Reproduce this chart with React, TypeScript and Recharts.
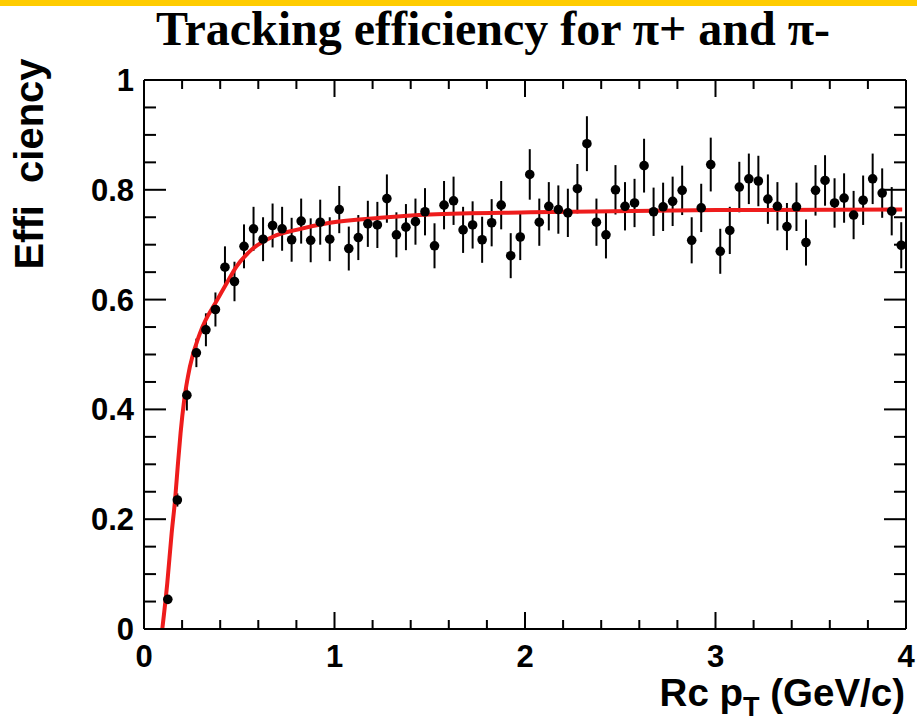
import React from 'react'
import { ComposedChart, Scatter, Line, XAxis, YAxis, ErrorBar } from 'recharts'

// bin centres in Rc pT (GeV/c)
const PT = [
  0.125, 0.175, 0.225, 0.275, 0.325, 0.375, 0.425, 0.475, 0.525, 0.575,
  0.625, 0.675, 0.725, 0.775, 0.825, 0.875, 0.925, 0.975, 1.025, 1.075,
  1.125, 1.175, 1.225, 1.275, 1.325, 1.375, 1.425, 1.475, 1.525, 1.575,
  1.625, 1.675, 1.725, 1.775, 1.825, 1.875, 1.925, 1.975, 2.025, 2.075,
  2.125, 2.175, 2.225, 2.275, 2.325, 2.375, 2.425, 2.475, 2.525, 2.575,
  2.625, 2.675, 2.725, 2.775, 2.825, 2.875, 2.925, 2.975, 3.025, 3.075,
  3.125, 3.175, 3.225, 3.275, 3.325, 3.375, 3.425, 3.475, 3.525, 3.575,
  3.625, 3.675, 3.725, 3.775, 3.825, 3.875, 3.925, 3.975,
]

const EFF = [
  0.054, 0.235, 0.426, 0.503, 0.545, 0.582, 0.659, 0.633, 0.697, 0.729,
  0.71, 0.735, 0.729, 0.709, 0.743, 0.708, 0.741, 0.71, 0.764, 0.693,
  0.713, 0.738, 0.736, 0.784, 0.718, 0.732, 0.742, 0.76, 0.698, 0.772,
  0.78, 0.727, 0.736, 0.709, 0.74, 0.772, 0.68, 0.714, 0.828, 0.741,
  0.77, 0.764, 0.758, 0.802, 0.884, 0.741, 0.718, 0.8, 0.77, 0.776,
  0.844, 0.76, 0.769, 0.779, 0.799, 0.708, 0.767, 0.846, 0.688, 0.726,
  0.805, 0.82, 0.816, 0.783, 0.77, 0.733, 0.769, 0.704, 0.799, 0.817,
  0.776, 0.785, 0.754, 0.781, 0.82, 0.794, 0.761, 0.699,
]

const ERR = [
  0.008, 0.012, 0.028, 0.026, 0.03, 0.031, 0.038, 0.036, 0.04, 0.04,
  0.04, 0.04, 0.04, 0.04, 0.041, 0.04, 0.041, 0.04, 0.043, 0.04,
  0.041, 0.042, 0.042, 0.044, 0.041, 0.042, 0.042, 0.043, 0.041, 0.044,
  0.044, 0.042, 0.043, 0.042, 0.043, 0.044, 0.041, 0.042, 0.046, 0.043,
  0.044, 0.044, 0.044, 0.045, 0.05, 0.043, 0.043, 0.045, 0.044, 0.044,
  0.049, 0.044, 0.044, 0.045, 0.045, 0.042, 0.044, 0.049, 0.041, 0.043,
  0.046, 0.046, 0.046, 0.045, 0.044, 0.043, 0.044, 0.042, 0.046, 0.046,
  0.045, 0.045, 0.044, 0.045, 0.046, 0.045, 0.044, 0.042,
]

// fit curve
const FIT_PT = [
  0.096, 0.122, 0.145, 0.163, 0.177, 0.192, 0.211, 0.241, 0.294, 0.385,
  0.434, 0.487, 0.565, 0.679, 0.8, 0.976, 1.24, 1.5, 2.03, 3.0, 3.98,
]
const FIT_EFF = [
  0, 0.083, 0.174, 0.235, 0.296, 0.357, 0.417, 0.478, 0.539, 0.6,
  0.63, 0.661, 0.691, 0.715, 0.727, 0.74, 0.749, 0.755, 0.759, 0.763, 0.764,
]

const X_MAJOR = [0, 1, 2, 3, 4]
const X_TICKS = [
  0.2, 0.4, 0.6, 0.8, 1, 1.2, 1.4, 1.6, 1.8, 2, 2.2, 2.4, 2.6, 2.8, 3,
  3.2, 3.4, 3.6, 3.8,
]
const Y_MAJOR = [0, 0.2, 0.4, 0.6, 0.8, 1]
const Y_TICKS = [
  0, 0.05, 0.1, 0.15, 0.2, 0.25, 0.3, 0.35, 0.4, 0.45, 0.5, 0.55, 0.6, 0.65,
  0.7, 0.75, 0.8, 0.85, 0.9, 0.95, 1,
]

const W = 917
const H = 723
const SANS = "'Liberation Sans', Arial, Helvetica, sans-serif"
const SERIF = "'Liberation Serif', 'Times New Roman', serif"

// x tick lengths in y-data units (frame is 549px tall for 0..1)
const TICK_MAJOR = 17 / 549
const TICK_MINOR = 9 / 549

const points = PT.map((x, i) => ({ x, y: EFF[i], err: ERR[i] }))
const fit = FIT_PT.map((x, i) => ({ x, y: FIT_EFF[i] }))

// x ticks as broken line segments: (x,edge) -> (x,edge±len), then a gap
const tickLen = (x: number) => (X_MAJOR.includes(x) ? TICK_MAJOR : TICK_MINOR)
const bottomTickPath = X_TICKS.flatMap((x) => [
  { x, y: 0 },
  { x, y: tickLen(x) },
  { x, y: null },
])
const topTickPath = X_TICKS.flatMap((x) => [
  { x, y: 1 },
  { x, y: 1 - tickLen(x) },
  { x, y: null },
])

const frame = { stroke: '#000', strokeWidth: 2 }
const labelStyle = { fill: '#000', fontSize: 31, fontWeight: 700, fontFamily: SANS }

// y ticks point into the frame; x/y arrive at the axis edge (tickSize 0)
function YTick({ x, y, payload, side }: any) {
  const major = Y_MAJOR.includes(payload.value)
  const len = major ? 22 : 12
  const dir = side === 'left' ? 1 : -1
  return (
    <g>
      <line x1={x} x2={x + dir * len} y1={y} y2={y} stroke="#000" strokeWidth={2} />
      {side === 'left' && major && (
        <text x={x - 10} y={y + 11} textAnchor="end" {...labelStyle}>{String(payload.value)}</text>
      )}
    </g>
  )
}

export default function App() {
  return (
    <div style={{ position: 'absolute', left: 0, top: 0, width: W, height: H, background: '#fff' }}>
      {/* each axis takes 1px: plot box is x 144..906, y 80..629 */}
      <ComposedChart width={W} height={H} margin={{ top: 79, right: 10, bottom: 93, left: 143 }}>
        <XAxis xAxisId={0} dataKey="x" type="number" orientation="bottom" domain={[0, 4]} allowDataOverflow
          ticks={X_MAJOR} interval={0} height={1} tickSize={0} tickMargin={16}
          tick={labelStyle} axisLine={frame} tickLine={false} />
        <XAxis xAxisId="xtop" type="number" orientation="top" domain={[0, 4]} allowDataOverflow
          ticks={X_MAJOR} interval={0} height={1} tickSize={0} tick={false} axisLine={frame} tickLine={false} />
        <YAxis yAxisId={0} dataKey="y" type="number" orientation="left" domain={[0, 1]} allowDataOverflow
          ticks={Y_TICKS} interval={0} width={1} tickSize={0} tickMargin={0}
          tick={(p: any) => <YTick {...p} side="left" />} axisLine={frame} tickLine={false} />
        <YAxis yAxisId="yright" type="number" orientation="right" domain={[0, 1]} allowDataOverflow
          ticks={Y_TICKS} interval={0} width={1} tickSize={0} tickMargin={0}
          tick={(p: any) => <YTick {...p} side="right" />} axisLine={frame} tickLine={false} />

        <Line data={bottomTickPath} dataKey="y" type="linear" stroke="#000" strokeWidth={2}
          dot={false} activeDot={false} connectNulls={false} isAnimationActive={false} />
        <Line data={topTickPath} dataKey="y" type="linear" stroke="#000" strokeWidth={2}
          dot={false} activeDot={false} connectNulls={false} isAnimationActive={false} />

        <Scatter
          data={points}
          dataKey="y"
          isAnimationActive={false}
          shape={(p: any) => <circle cx={p.cx} cy={p.cy} r={4.8} fill="#000" />}
        >
          <ErrorBar dataKey="err" direction="y" width={0} stroke="#000" strokeWidth={2} />
        </Scatter>
        <Line
          data={fit}
          dataKey="y"
          type="monotone"
          stroke="#ee1c1c"
          strokeWidth={4}
          dot={false}
          activeDot={false}
          isAnimationActive={false}
        />
      </ComposedChart>

      <svg width={W} height={H} style={{ position: 'absolute', left: 0, top: 0, pointerEvents: 'none' }}>
        <rect x={0} y={0} width={W} height={6} fill="#ffcc00" />
        <text x={493} y={45} textAnchor="middle" fontFamily={SERIF} fontWeight={700} fontSize={48} fill="#000">
          Tracking efficiency for π+ and π-
        </text>
        <text
          transform="translate(43,164) rotate(-90)"
          textAnchor="middle"
          fontFamily={SANS}
          fontWeight={700}
          fontSize={40}
          fill="#000"
          style={{ whiteSpace: 'pre' }}
        >
          {'Effi  ciency'}
        </text>
        <text x={905} y={706} textAnchor="end" fontFamily={SANS} fontWeight={700} fontSize={38.5} fill="#000">
          Rc p
          <tspan fontSize={27} dy={10}>T</tspan>
          <tspan dy={-10}>{' (GeV/c)'}</tspan>
        </text>
      </svg>
    </div>
  )
}
